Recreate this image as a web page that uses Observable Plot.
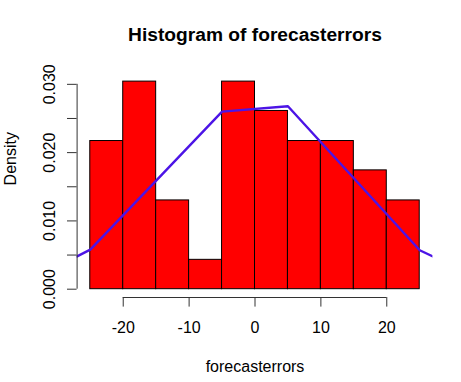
<!DOCTYPE html>
<html>
<head>
<meta charset="utf-8">
<script src="https://cdn.jsdelivr.net/npm/d3@7"></script>
<script src="https://cdn.jsdelivr.net/npm/@observablehq/plot@0.6"></script>
<style>
  html, body { margin: 0; padding: 0; background: #fff; }
  svg { display: block; }
</style>
</head>
<body>
<div id="chart"></div>
<script>
// Histogram bins (breaks) and densities
const binStarts = [-25, -20, -15, -10, -5, 0, 5, 10, 15, 20];
const binEnds   = [-20, -15, -10, -5, 0, 5, 10, 15, 20, 25];
const densities = [0.0217, 0.0304, 0.0130, 0.0043, 0.0304, 0.0261, 0.0217, 0.0217, 0.0174, 0.0130];

// Overlay curve points
const curveX = [-27, -25, -5, 5, 25, 27];
const curveY = [0.0048, 0.0058, 0.0260, 0.0268, 0.0057, 0.0048];

// Ticks
const xTicks = [-20, -10, 0, 10, 20];
const yTicks = [0, 0.005, 0.010, 0.015, 0.020, 0.025, 0.030];
const yLabelTicks = [0, 0.010, 0.020, 0.030];
const yLabelText = ["0.000", "0.010", "0.020", "0.030"];

const titleText = "Histogram of forecasterrors";
const xTitle = "forecasterrors";
const yTitle = "Density";

const bins = binStarts.map((s, i) => ({x1: s, x2: binEnds[i], y: densities[i]}));
const curve = curveX.map((x, i) => ({x, y: curveY[i]}));
const yLabels = yLabelTicks.map((v, i) => ({v, t: yLabelText[i]}));

const xMin = d3.min(binStarts), xMax = d3.max(binEnds);
const xPad = (xMax - xMin) * 0.04;
const yMax = d3.max(densities);
const yPad = yMax * 0.04;
const xDomain = [xMin - xPad, xMax + xPad];
const yDomain = [-yPad, yMax + yPad];

const font = "Liberation Sans, Arial, Helvetica, sans-serif";

const plot = Plot.plot({
  width: 461,
  height: 382,
  marginLeft: 76.6,
  marginRight: 28.6,
  marginTop: 72.8,
  marginBottom: 85,
  style: {fontFamily: font, fontSize: "16px", background: "#fff", color: "#000"},
  x: {domain: xDomain, axis: null},
  y: {domain: yDomain, axis: null},
  marks: [
    Plot.rectY(bins, {x1: "x1", x2: "x2", y1: 0, y2: "y", fill: "#ff0000", stroke: "#000", strokeWidth: 1}),
    Plot.line(curve, {x: "x", y: "y", stroke: "#4c14e6", strokeWidth: 2.4, clip: true}),
    // x axis
    Plot.ruleY([yDomain[0]], {x1: d3.min(xTicks), x2: d3.max(xTicks), stroke: "#333", strokeWidth: 1}),
    Plot.axisX({ticks: xTicks, tickSize: 9.6, tickPadding: 14.5, tickFormat: d => String(d), label: null, stroke: "#333", fontSize: 16, anchor: "bottom"}),
    // y axis
    Plot.ruleX([xDomain[0]], {y1: d3.min(yTicks), y2: d3.max(yTicks), stroke: "#333", strokeWidth: 1}),
    Plot.axisY({ticks: yTicks, tickSize: 9.6, tickFormat: () => "", label: null, stroke: "#333", anchor: "left"}),
    Plot.text(yLabels, {y: "v", text: "t", frameAnchor: "left", rotate: -90, dx: -22.6, lineAnchor: "bottom", textAnchor: "middle", fontSize: 16, fill: "#000"}),
    // titles
    Plot.text([titleText], {frameAnchor: "top", dy: 40 - 72.8, lineAnchor: "bottom", fontSize: 19.2, fontWeight: "bold", fill: "#000"}),
    Plot.text([xTitle], {frameAnchor: "bottom", dy: 371 - 297, lineAnchor: "bottom", fontSize: 16, fill: "#000"}),
    Plot.text([yTitle], {frameAnchor: "left", rotate: -90, dx: 15 - 76.6, lineAnchor: "bottom", fontSize: 16, fill: "#000"})
  ]
});
document.getElementById("chart").appendChild(plot);
</script>
</body>
</html>
